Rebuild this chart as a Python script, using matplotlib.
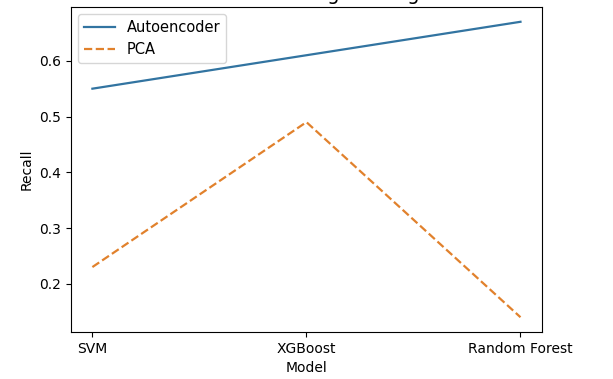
import matplotlib
matplotlib.use("Agg")
import matplotlib.pyplot as plt

models = ["SVM", "XGBoost", "Random Forest"]
autoencoder_recall = [0.55, 0.61, 0.67]
pca_recall = [0.23, 0.49, 0.14]
series_names = ["Autoencoder", "PCA"]
title_text = "Recall After Feature Engineering Methods"

fig = plt.figure(figsize=(6.13, 3.79), dpi=100)
ax = fig.add_axes([0.1158, 0.124, 0.7682, 0.8575])

x = range(len(models))
ax.plot(x, autoencoder_recall, color="#3274a1", lw=1.6, label=series_names[0])
ax.plot(x, pca_recall, color="#e1812c", lw=1.6, ls="--", label=series_names[1])
ax.set_xticks(list(x))
ax.set_xticklabels(models)
ax.set_xlabel("Model")
ax.set_ylabel("Recall")
ax.legend(loc="upper left", fontsize=10.5, handlelength=2.1)

fig.text(0.5008, 1.0, title_text, ha="center", va="baseline", fontsize=14)

fig.savefig("out.png", dpi=100)
